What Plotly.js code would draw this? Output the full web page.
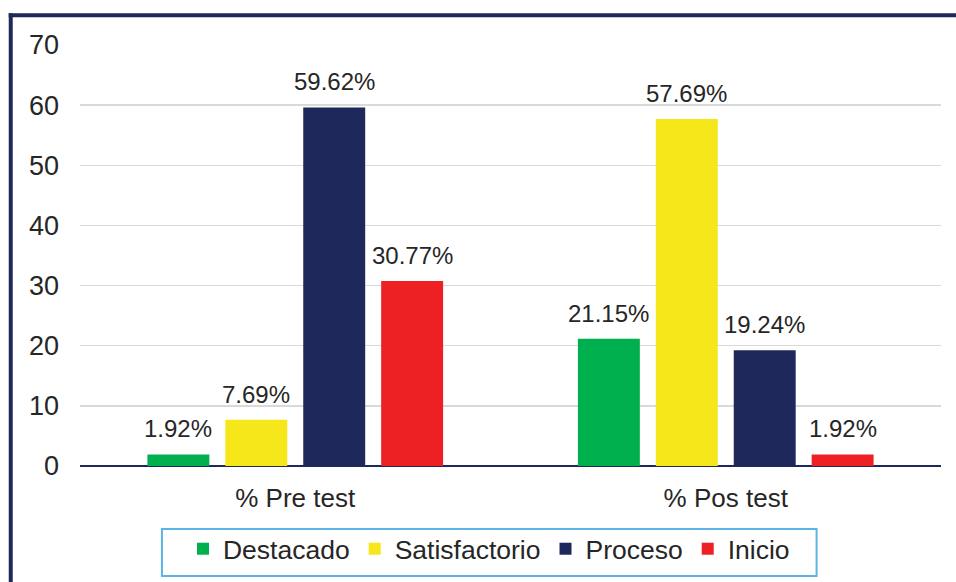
<!DOCTYPE html>
<html>
<head>
<meta charset="utf-8">
<script src="https://cdn.plot.ly/plotly-3.0.1.min.js"></script>
<style>
html,body{margin:0;padding:0;background:#fff;}
#chart{width:956px;height:582px;}
</style>
</head>
<body>
<div id="chart"></div>
<script>
const categories = ['% Pre test', '% Pos test'];
const seriesNames = ['Destacado', 'Satisfactorio', 'Proceso', 'Inicio'];
const destacado = [1.92, 21.15];
const satisfactorio = [7.69, 57.69];
const proceso = [59.62, 19.24];
const inicio = [30.77, 1.92];
const yTicks = [0, 10, 20, 30, 40, 50, 60, 70];

const colors = ['#00b04f', '#f5e71a', '#1f285a', '#ed2024'];
const values = [destacado, satisfactorio, proceso, inicio];
const FONT = 'Arial, "Liberation Sans", sans-serif';
const BARGAP = 0.276;

const traces = seriesNames.map((name, i) => ({
  type: 'bar',
  name: name,
  x: categories,
  y: values[i],
  marker: {color: colors[i]},
  hoverinfo: 'x+y+name'
}));

// data labels placed through the axes' own scales (category index + group offset, value)
const slot = (1 - BARGAP) / seriesNames.length;
const annotations = [];
values.forEach((vals, i) => {
  vals.forEach((v, c) => {
    annotations.push({
      xref: 'x', yref: 'y',
      x: c + (i - (seriesNames.length - 1) / 2) * slot,
      y: v,
      text: v.toFixed(2) + '%',
      showarrow: false,
      xanchor: 'center',
      yanchor: 'bottom',
      yshift: 10,
      font: {family: FONT, size: 24, color: '#262626'}
    });
  });
});

const layout = {
  width: 956,
  height: 582,
  margin: {l: 80, r: 15, t: 45, b: 116, pad: 0, autoexpand: false},
  paper_bgcolor: '#ffffff',
  plot_bgcolor: '#ffffff',
  barmode: 'group',
  bargap: BARGAP,
  bargroupgap: 0.205,
  font: {family: FONT, color: '#262626'},
  xaxis: {
    type: 'category',
    range: [-0.5, 1.5],
    showgrid: false,
    showline: false,
    zeroline: false,
    ticks: '',
    ticklabelstandoff: 14,
    tickfont: {family: FONT, size: 26, color: '#262626'},
    fixedrange: true
  },
  yaxis: {
    range: [0, 70],
    tickvals: yTicks,
    ticktext: yTicks.map(String),
    showgrid: true,
    gridcolor: '#d9d9d9',
    gridwidth: 1.3,
    zeroline: true,
    zerolinecolor: '#1f285a',
    zerolinewidth: 2,
    showline: false,
    ticks: '',
    ticklabelstandoff: 20,
    tickfont: {family: FONT, size: 27, color: '#262626'},
    fixedrange: true
  },
  legend: {
    orientation: 'h',
    x: 0.475,
    xanchor: 'center',
    y: (466 - 525) / 421,
    yanchor: 'top',
    bgcolor: 'rgba(0,0,0,0)',
    borderwidth: 0,
    font: {family: FONT, size: 26.5, color: '#262626'},
    itemclick: false,
    itemdoubleclick: false
  },
  annotations: annotations,
  shapes: [
    {type: 'rect', xref: 'paper', yref: 'paper',
     x0: (162 - 80) / 861.5, x1: (817 - 80) / 861.5,
     y0: (466 - 529) / 421, y1: (466 - 576) / 421,
     line: {color: '#5ab4e5', width: 2}, fillcolor: 'rgba(0,0,0,0)', layer: 'above'},
    {type: 'line', xref: 'paper', yref: 'paper',
     x0: (10.7 - 80) / 861.5, x1: (10.7 - 80) / 861.5,
     y0: (466 - 13.3) / 421, y1: (466 - 600) / 421,
     line: {color: '#1f285a', width: 4}, layer: 'above'},
    {type: 'line', xref: 'paper', yref: 'paper',
     x0: (8.7 - 80) / 861.5, x1: (1000 - 80) / 861.5,
     y0: (466 - 15.3) / 421, y1: (466 - 15.3) / 421,
     line: {color: '#1f285a', width: 4}, layer: 'above'}
  ],
  showlegend: true
};

Plotly.newPlot('chart', traces, layout, {displayModeBar: false, staticPlot: true});
</script>
</body>
</html>
